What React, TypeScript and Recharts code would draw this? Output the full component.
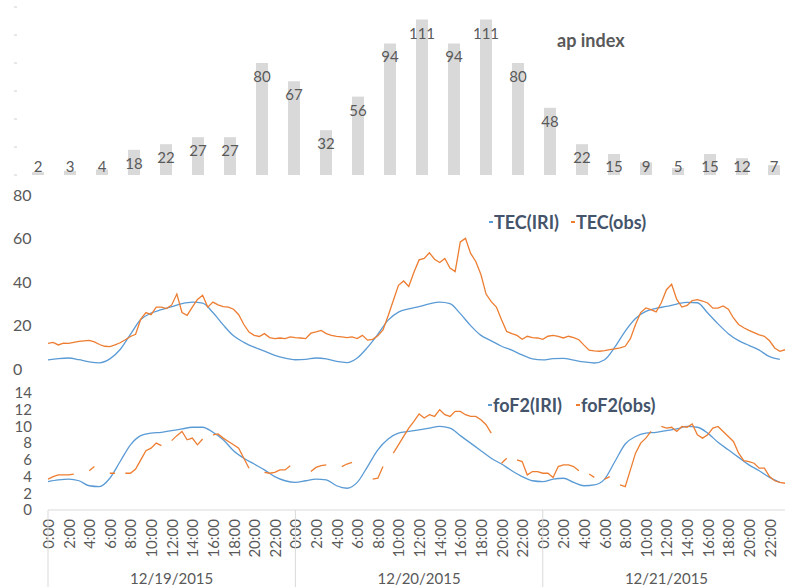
import React from 'react';
import { Bar, BarChart, LabelList, Legend, Line, LineChart, XAxis, YAxis } from 'recharts';

const FONT = 'Lato, "Open Sans", sans-serif';
const GREY = '#595959';
const NAVY = '#44546a';
const BLUE = '#5b9bd5';
const ORANGE = '#ed7d31';

const days = ['12/19/2015', '12/20/2015', '12/21/2015'];
const apHours = ['0:00', '3:00', '6:00', '9:00', '12:00', '15:00', '18:00', '21:00'];
const apIndex = [2, 3, 4, 18, 22, 27, 27, 80, 67, 32, 56, 94, 111, 94, 111, 80, 48, 22, 15, 9, 5, 15, 12, 7];
const apTicks = [0, 20, 40, 60, 80, 100, 120];

const timeTicks = [0, 2, 4, 6, 8, 10, 12, 14, 16, 18, 20, 22, 24, 26, 28, 30, 32, 34, 36, 38, 40, 42, 44, 46, 48, 50, 52, 54, 56, 58, 60, 62, 64, 66, 68, 70];
const tecTicks = [0, 20, 40, 60, 80];
const foTicks = [0, 2, 4, 6, 8, 10, 12, 14];

// hourly model values
const tecIri = [
  3.7, 4.3, 4.6, 3.8, 2.8, 2.4, 4.2, 8.5, 15.5, 22.3, 25.2, 26.8, 28.2, 29.6, 30.3, 29.8, 25.5, 19.8, 14.8, 11.8, 9.6, 7.8, 5.8, 4.5,
  3.8, 4.0, 4.6, 4.2, 3.0, 2.5, 4.6, 9.5, 15.5, 22.0, 25.7, 27.2, 28.2, 29.5, 30.3, 29.6, 25.0, 19.5, 15.0, 12.5, 10.0, 8.2, 6.0, 4.2,
  3.7, 4.3, 4.4, 3.6, 2.8, 2.3, 3.8, 9.7, 17.0, 22.8, 26.0, 27.4, 28.3, 29.4, 30.2, 30.0, 25.3, 20.3, 15.8, 12.6, 10.4, 8.2, 5.2, 4.0,
];
const foIri = [
  3.4, 3.6, 3.7, 3.5, 2.9, 2.8, 3.8, 5.8, 7.8, 8.9, 9.2, 9.3, 9.5, 9.7, 9.9, 9.9, 9.3, 8.4, 7.1, 6.2, 5.5, 4.8, 4.0, 3.5,
  3.3, 3.5, 3.7, 3.6, 2.9, 2.6, 3.3, 5.2, 7.2, 8.5, 9.2, 9.4, 9.6, 9.8, 10.0, 9.8, 8.9, 8.0, 7.1, 6.2, 5.5, 4.7, 4.0, 3.5,
  3.4, 3.7, 3.8, 3.3, 2.9, 3.0, 3.7, 5.8, 7.9, 8.8, 9.2, 9.3, 9.5, 9.7, 10.0, 9.9, 9.2, 8.1, 7.2, 6.3, 5.4, 4.7, 3.9, 3.3,
];

// half-hourly observations
const tecObs = [
  11.3, 11.8, 10.6, 11.4, 11.3, 11.8, 12.2, 12.5, 12.7, 12.0, 10.8, 10.0, 9.8, 10.6, 11.6, 13.0, 14.5, 15.5, 22.5, 25.5,
  24.5, 28.0, 28.0, 27.3, 29.0, 34.0, 25.5, 24.2, 28.0, 31.5, 33.4, 28.0, 30.3, 29.0, 28.2, 28.0, 27.0, 24.5, 20.0, 16.5,
  15.0, 14.5, 15.8, 14.0, 13.5, 13.8, 13.5, 14.3,
  14.0, 13.8, 13.5, 16.0, 16.6, 17.3, 15.8, 15.0, 14.5, 14.3, 14.0, 14.3, 13.5, 15.0, 12.8, 13.2, 14.8, 17.5, 24.0, 31.0,
  38.0, 40.0, 37.5, 44.0, 49.7, 50.4, 53.0, 50.0, 48.5, 50.4, 46.0, 44.3, 58.0, 59.6, 52.7, 49.0, 43.0, 34.0, 30.5, 28.0,
  22.2, 16.8, 15.8, 15.0, 13.2, 14.6, 14.0, 13.8,
  13.2, 14.6, 15.0, 14.5, 13.8, 14.6, 14.0, 13.0, 10.5, 8.2, 7.9, 7.7, 8.0, 8.4, 8.8, 9.2, 10.0, 13.5, 20.0, 25.5,
  27.6, 26.8, 25.8, 30.0, 36.0, 38.5, 31.5, 28.0, 28.8, 31.0, 31.4, 30.8, 29.9, 27.5, 27.5, 28.5, 27.0, 23.0, 20.0, 18.5,
  17.3, 16.3, 15.2, 14.6, 12.5, 9.2, 7.7, 8.4,
];
const foObs = [
  3.7, 4.0, 4.2, 4.2, 4.2, 4.3, null, null, 4.7, 5.2, null, null, 4.4, 4.4, null, 4.4, 4.4, 4.9, 6.0, 7.1,
  7.4, 8.0, 7.7, null, 8.3, 8.9, 9.4, 8.4, 8.6, 7.8, 8.5, null, 9.0, 9.1, 8.6, 8.2, 7.8, 7.4, 6.2, 5.0,
  null, null, 4.5, 4.4, 4.5, 4.8, 4.8, 5.3,
  null, null, null, 4.6, 5.1, 5.3, 5.4, null, null, 5.2, 5.5, 5.7, null, null, null, 3.7, 3.8, 5.2, null, 6.8,
  7.8, 8.8, 9.8, 10.6, 11.5, 11.0, 11.4, 11.2, 12.0, 11.4, 11.2, 11.8, 11.8, 11.4, 11.2, 11.2, 10.8, 10.2, 9.2, null,
  5.6, 6.2, null, 6.0, 5.8, 4.2, 4.6, 4.6,
  4.4, 4.4, 3.9, 5.2, 5.4, 5.4, 5.2, 4.7, null, 4.3, 3.9, null, 3.7, 4.0, null, 3.0, 2.8, 4.8, 6.8, 8.0,
  8.6, 9.4, null, 10.0, 9.8, 9.9, 9.4, 10.0, 9.9, 10.3, 9.0, 8.6, 9.0, 9.8, 10.0, 9.4, 8.8, 8.2, 6.8, 5.9,
  5.8, 5.6, 5.0, 5.0, 4.0, 3.5, 3.3, 3.2,
];

const apData = days.flatMap((d, di) =>
  apHours.map((h, hi) => ({ slot: `${d} ${h}`, ap: apIndex[di * apHours.length + hi] })),
);

const STEP = 0.5; // hours between observation rows
const rows = tecObs.map((v, i) => ({
  t: i * STEP,
  tecObs: v,
  foObs: foObs[i],
  tecIri: i % 2 === 0 ? tecIri[i / 2] : null,
  foIri: i % 2 === 0 ? foIri[i / 2] : null,
}));

function ApLabel(props: any) {
  const { x, y, width, height, value } = props;
  const cy = Math.min(y + 13, y + height - 9);
  return (
    <text x={x + width / 2} y={cy} textAnchor="middle" dominantBaseline="central" fill={GREY} fontSize={15} fontFamily={FONT}>
      {value}
    </text>
  );
}

function ApTick(props: any) {
  const { x, y } = props;
  return <line x1={x - 3} x2={x} y1={y} y2={y} stroke="#d0d0d0" />;
}

function TecTick(props: any) {
  const { x, y, payload } = props;
  return (
    <text x={x} y={y} textAnchor="start" dominantBaseline="central" fill={GREY} fontSize={16} fontFamily={FONT}>
      {payload.value}
    </text>
  );
}

function TimeTick(props: any) {
  const { x, y, payload } = props;
  const v = payload.value as number;
  const hour = v % 24;
  return (
    <g>
      <text
        x={x}
        y={y + 9}
        transform={`rotate(-90, ${x}, ${y + 9})`}
        textAnchor="end"
        dominantBaseline="central"
        fill={GREY}
        fontSize={15}
        fontFamily={FONT}
      >
        {`${hour}:00`}
      </text>
      {hour === 0 && <line x1={x} x2={x} y1={y} y2={y + 77} stroke="#d9d9d9" />}
      {hour === 12 && (
        <text x={x} y={y + 68} textAnchor="middle" dominantBaseline="central" fill={GREY} fontSize={15} fontFamily={FONT}>
          {days[Math.floor(v / 24)]}
        </text>
      )}
    </g>
  );
}

function SeriesLegend({ payload, gap }: any) {
  return (
    <div style={{ display: 'flex', fontFamily: FONT, fontWeight: 700, fontSize: 18, lineHeight: '20px', color: NAVY }}>
      {(payload || []).map((p: any, i: number) => (
        <span key={p.value} style={{ display: 'flex', alignItems: 'center', marginLeft: i ? gap : 0 }}>
          <span style={{ display: 'inline-block', width: 4, height: 1.5, background: p.color, marginRight: 1 }} />
          {p.value}
        </span>
      ))}
    </div>
  );
}

export default function App() {
  return (
    <div style={{ position: 'absolute', left: 0, top: 0, width: 785, height: 587, overflow: 'hidden', background: '#fff' }}>
      <div style={{ position: 'absolute', left: 0, top: 0 }}>
        <BarChart width={790} height={185} data={apData} margin={{ top: 7, right: 0, bottom: 10, left: 0 }}>
          <XAxis dataKey="slot" hide />
          <YAxis domain={[0, 120]} ticks={apTicks} interval={0} width={22} axisLine={false} tickLine={false} tickSize={0} tickMargin={5} tick={<ApTick />} />
          <Legend
            layout="vertical"
            align="center"
            verticalAlign="middle"
            wrapperStyle={{ top: 29, left: 557, width: 'auto' }}
            content={() => (
              <div style={{ fontFamily: FONT, fontWeight: 700, fontSize: 18, lineHeight: '22px', color: GREY }}>ap index</div>
            )}
          />
          <Bar dataKey="ap" name="ap index" fill="#d9d9d9" barSize={12} isAnimationActive={false}>
            <LabelList dataKey="ap" content={<ApLabel />} />
          </Bar>
        </BarChart>
      </div>

      <div style={{ position: 'absolute', left: 0, top: 185 }}>
        <LineChart width={785} height={197} data={rows} margin={{ top: 9, right: 0, bottom: 14, left: 0 }}>
          <XAxis dataKey="t" type="number" domain={[0, 71.5]} hide />
          <YAxis domain={[0, 80]} ticks={tecTicks} interval={0} width={48} axisLine={false} tickLine={false} tickSize={0} tickMargin={35} tick={<TecTick />} />
          <Legend
            layout="vertical"
            align="center"
            verticalAlign="middle"
            wrapperStyle={{ top: 27, left: 489, width: 'auto' }}
            content={(p: any) => <SeriesLegend payload={p.payload} gap={12} />}
          />
          <Line dataKey="tecIri" name="TEC(IRI)" type="monotone" stroke={BLUE} strokeWidth={1.3} dot={false} connectNulls isAnimationActive={false} />
          <Line dataKey="tecObs" name="TEC(obs)" type="linear" stroke={ORANGE} strokeWidth={1.3} dot={false} isAnimationActive={false} />
        </LineChart>
      </div>

      <div style={{ position: 'absolute', left: 0, top: 380 }}>
        <LineChart width={785} height={207} data={rows} margin={{ top: 13, right: 0, bottom: 0, left: 0 }}>
          <XAxis
            dataKey="t"
            type="number"
            domain={[0, 71.5]}
            ticks={timeTicks}
            interval={0}
            height={77}
            tickLine={false}
            tickSize={0}
            tickMargin={0}
            axisLine={{ stroke: '#d9d9d9' }}
            tick={<TimeTick />}
          />
          <YAxis
            domain={[0, 14]}
            ticks={foTicks}
            interval={0}
            width={48}
            axisLine={false}
            tickLine={false}
            tickSize={0}
            tickMargin={16}
            tick={{ fill: GREY, fontSize: 15, fontFamily: FONT }}
          />
          <Legend
            layout="vertical"
            align="center"
            verticalAlign="middle"
            wrapperStyle={{ top: 15, left: 488, width: 'auto' }}
            content={(p: any) => <SeriesLegend payload={p.payload} gap={14} />}
          />
          <Line dataKey="foIri" name="foF2(IRI)" type="monotone" stroke={BLUE} strokeWidth={1.3} dot={false} connectNulls isAnimationActive={false} />
          <Line dataKey="foObs" name="foF2(obs)" type="linear" stroke={ORANGE} strokeWidth={1.3} dot={false} isAnimationActive={false} />
        </LineChart>
      </div>
    </div>
  );
}
